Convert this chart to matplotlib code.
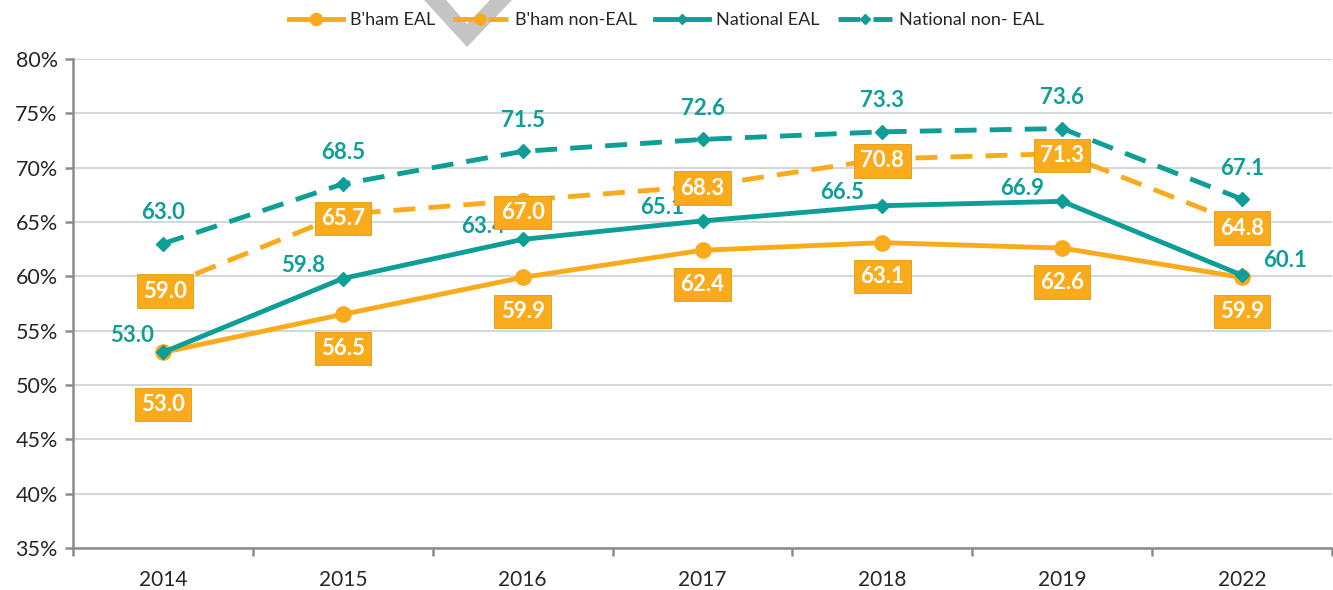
import matplotlib
matplotlib.use("Agg")
import matplotlib.pyplot as plt
from matplotlib.patches import Polygon

plt.rcParams['font.family'] = ['Lato', 'DejaVu Sans']

years = ['2014', '2015', '2016', '2017', '2018', '2019', '2022']
bham_eal = [53.0, 56.5, 59.9, 62.4, 63.1, 62.6, 59.9]
bham_non_eal = [59.0, 65.7, 67.0, 68.3, 70.8, 71.3, 64.8]
nat_eal = [53.0, 59.8, 63.4, 65.1, 66.5, 66.9, 60.1]
nat_non_eal = [63.0, 68.5, 71.5, 72.6, 73.3, 73.6, 67.1]
yticks = [35, 40, 45, 50, 55, 60, 65, 70, 75, 80]

ORANGE = '#F9AB1C'
TEAL = '#0E9E98'
GRID = '#D3D8D8'
SPINE = '#8C8C8C'

W, H = 1333, 590
fig = plt.figure(figsize=(W / 100, H / 100), dpi=100)
ax = fig.add_axes([73 / W, 1 - 548 / H, (1332 - 73) / W, (548 - 59) / H])

x = list(range(len(years)))

ax.plot(x, nat_non_eal, color=TEAL, lw=3.5, ls=(0, (4.5, 2.7)), marker='D', ms=7,
        label='National non- EAL', zorder=3)
ax.plot(x, bham_non_eal, color=ORANGE, lw=3.5, ls=(0, (4.5, 2.7)), marker='o', ms=10,
        label="B'ham non-EAL", zorder=3)
ax.plot(x, bham_eal, color=ORANGE, lw=3.5, marker='o', ms=11,
        label="B'ham EAL", zorder=4)
ax.plot(x, nat_eal, color=TEAL, lw=3.5, marker='D', ms=7,
        label='National EAL', zorder=5)

box = dict(boxstyle='square,pad=0.28', fc=ORANGE, ec='#E09A10', lw=0.6)
lab_fs = 16

# B'ham EAL labels (below)
for i, v in enumerate(bham_eal):
    dy = -52 if i == 0 else -34
    ax.annotate(f'{v:.1f}', (i, v), xytext=(0, dy * 0.72), textcoords='offset points',
                ha='center', va='center', color='white', fontsize=lab_fs,
                fontweight='bold', bbox=box, zorder=8)

# B'ham non-EAL labels (centred)
for i, v in enumerate(bham_non_eal):
    dx = 2 if i == 0 else 0
    dy = -4 if i in (0, 1, 6) else (-12 if i == 2 else -2)
    ax.annotate(f'{v:.1f}', (i, v), xytext=(dx * 0.72, dy * 0.72), textcoords='offset points',
                ha='center', va='center', color='white', fontsize=lab_fs,
                fontweight='bold', bbox=box, zorder=8)

# National EAL labels (above-left, last above-right)
for i, v in enumerate(nat_eal):
    if i == len(nat_eal) - 1:
        off = (43, 15)
    elif i == 0:
        off = (-31, 17)
    else:
        off = (-40, 13)
    ax.annotate(f'{v:.1f}', (i, v), xytext=(off[0] * 0.72, off[1] * 0.72), textcoords='offset points',
                ha='center', va='center', color=TEAL, fontsize=lab_fs,
                fontweight='bold', zorder=7)

# National non-EAL labels (above)
for i, v in enumerate(nat_non_eal):
    ax.annotate(f'{v:.1f}', (i, v), xytext=(0, 31 * 0.72), textcoords='offset points',
                ha='center', va='center', color=TEAL, fontsize=lab_fs,
                fontweight='bold', zorder=7)

ax.set_xlim(-0.5, len(years) - 0.5)
ax.set_ylim(35, 80)
ax.set_yticks(yticks)
ax.set_yticklabels([f'{t}%' for t in yticks])
ax.set_xticks(x)
ax.set_xticklabels(years)
ax.set_xticks([i + 0.5 for i in range(-1, len(years))], minor=True)
ax.tick_params(axis='x', which='major', length=0, pad=16, labelsize=15, labelcolor='#262626')
ax.tick_params(axis='x', which='minor', length=6, width=1.8, color=SPINE, direction='out')
ax.tick_params(axis='y', length=6, width=1.8, color=SPINE, pad=5, labelsize=15.5, labelcolor='#262626')

ax.grid(axis='y', color=GRID, lw=1.5, zorder=0)
ax.set_axisbelow(True)
for s in ['top', 'right']:
    ax.spines[s].set_visible(False)
for s in ['left', 'bottom']:
    ax.spines[s].set_color(SPINE)
    ax.spines[s].set_linewidth(1.8)

# decorative grey chevron at top
chev = Polygon([(424 / W, 1.0), (446 / W, 1.0), (467 / W, 1 - 24 / H), (490 / W, 1.0),
                (512 / W, 1.0), (467 / W, 1 - 47 / H)],
               closed=True, transform=fig.transFigure, fc='#C4C4C4', ec='none', zorder=0)
fig.patches.append(chev)

handles, labels = ax.get_legend_handles_labels()
order = ["B'ham EAL", "B'ham non-EAL", 'National EAL', 'National non- EAL']
hmap = dict(zip(labels, handles))
leg = fig.legend([hmap[k] for k in order], order, loc='center', bbox_to_anchor=(0.5, 1 - 20 / H),
                 ncol=4, frameon=False, fontsize=13, handlelength=3, columnspacing=1.0,
                 handletextpad=0.4, markerscale=0.8)
for t in leg.get_texts():
    t.set_color('#262626')

fig.savefig('out.png', dpi=100)
